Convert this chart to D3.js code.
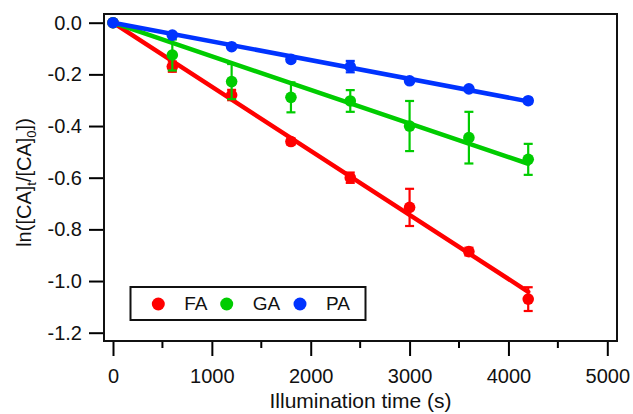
<!DOCTYPE html>
<html>
<head>
<meta charset="utf-8">
<script src="https://cdn.jsdelivr.net/npm/d3@7"></script>
<style>
  body { margin: 0; background: #fff; }
  svg { display: block; font-family: "Liberation Sans", Arial, sans-serif; }
</style>
</head>
<body>
<svg width="633" height="414"></svg>
<script>
// illumination times (s)
var times = [0, 600, 1200, 1800, 2400, 3000, 3600, 4200];

// ln([CA]t/[CA]0) means and error bars
var faMean = [0, -0.17, -0.28, -0.46, -0.60, -0.715, -0.886, -1.07];
var faErr  = [0, 0.02, 0.02, 0.012, 0.02, 0.072, 0.015, 0.046];
var gaMean = [0, -0.125, -0.228, -0.289, -0.303, -0.40, -0.445, -0.529];
var gaErr  = [0, 0.06, 0.068, 0.058, 0.042, 0.097, 0.10, 0.06];
var paMean = [0, -0.048, -0.093, -0.142, -0.170, -0.225, -0.256, -0.302];
var paErr  = [0, 0.005, 0.006, 0.01, 0.022, 0.006, 0.006, 0.01];

// linear fit slopes (per s)
var fitSlope = [-2.48e-4, -1.30e-4, -7.25e-5];

var seriesNames = ["FA", "GA", "PA"];
var seriesColors = ["#ff0000", "#00cc00", "#0033ff"];

var xTicks = [0, 1000, 2000, 3000, 4000, 5000];
var yTicks = [0, -0.2, -0.4, -0.6, -0.8, -1.0, -1.2];

;(function(){
    var svg = d3.select("svg"),
        left = 104, right = 617, top = 14, bottom = 341;

    var x = d3.scaleLinear().domain([0, 5000]).range([113, 607.3]);
    var y = d3.scaleLinear().domain([0, -1.2]).range([22.7, 332.7]);

    var series = [
        {name: seriesNames[0], mean: faMean, err: faErr, slope: fitSlope[0], color: seriesColors[0]},
        {name: seriesNames[1], mean: gaMean, err: gaErr, slope: fitSlope[1], color: seriesColors[1]},
        {name: seriesNames[2], mean: paMean, err: paErr, slope: fitSlope[2], color: seriesColors[2]}
    ];

    // x axis: major ticks + minor ticks
    var xAxis = d3.axisBottom(x)
        .tickValues(xTicks)
        .tickSizeInner(15)
        .tickSizeOuter(0)
        .tickPadding(13)
        .tickFormat(d3.format("d"));
    var gx = svg.append("g")
        .attr("transform", "translate(0," + bottom + ")")
        .call(xAxis);
    gx.select(".domain").remove();
    gx.selectAll(".tick line").attr("stroke", "#000").attr("stroke-width", 2);
    gx.selectAll(".tick text").attr("font-size", 20).attr("fill", "#111");
    gx.selectAll(".minor")
        .data(d3.range(500, 5000, 1000))
        .enter().append("line")
        .attr("x1", function(d){ return x(d); })
        .attr("x2", function(d){ return x(d); })
        .attr("y1", 0).attr("y2", 7)
        .attr("stroke", "#000").attr("stroke-width", 2);

    // y axis
    var yAxis = d3.axisLeft(y)
        .tickValues(yTicks)
        .tickSizeInner(15)
        .tickSizeOuter(0)
        .tickPadding(7)
        .tickFormat(d3.format(".1f"));
    var gy = svg.append("g")
        .attr("transform", "translate(" + left + ",0)")
        .call(yAxis);
    gy.select(".domain").remove();
    gy.selectAll(".tick line").attr("stroke", "#000").attr("stroke-width", 2);
    gy.selectAll(".tick text").attr("font-size", 20).attr("fill", "#111")
        .text(function(d){ return d3.format(".1f")(d).replace("−", "-"); });

    // frame
    svg.append("rect")
        .attr("x", left).attr("y", top)
        .attr("width", right - left).attr("height", bottom - top)
        .attr("fill", "none").attr("stroke", "#111").attr("stroke-width", 2);

    // axis titles
    svg.append("text")
        .attr("x", (left + right) / 2).attr("y", 408)
        .attr("text-anchor", "middle").attr("font-size", 21).attr("fill", "#111")
        .text("Illumination time (s)");

    var yt = svg.append("text")
        .attr("transform", "translate(31," + ((top + bottom) / 2 + 5) + ") rotate(-90)")
        .attr("text-anchor", "middle").attr("font-size", 20).attr("fill", "#111");
    yt.append("tspan").text("ln([CA]");
    yt.append("tspan").attr("font-size", 13).attr("dy", 5).text("t");
    yt.append("tspan").attr("dy", -5).text("/[CA]");
    yt.append("tspan").attr("font-size", 13).attr("dy", 5).text("0");
    yt.append("tspan").attr("dy", -5).text("])");

    var plot = svg.append("g");

    series.forEach(function(s){
        var pts = times.map(function(t, i){ return {t: t, v: s.mean[i], e: s.err[i]}; });

        // fit line
        var tEnd = d3.max(times);
        plot.append("line")
            .attr("x1", x(0)).attr("y1", y(0))
            .attr("x2", x(tEnd)).attr("y2", y(s.slope * tEnd))
            .attr("stroke", s.color).attr("stroke-width", 4.5)
            .attr("stroke-linecap", "round");

        // error bars
        var eb = plot.append("g").attr("stroke", s.color).attr("stroke-width", 2.2);
        pts.filter(function(d){ return d.e > 0; }).forEach(function(d){
            eb.append("line")
                .attr("x1", x(d.t)).attr("x2", x(d.t))
                .attr("y1", y(d.v + d.e)).attr("y2", y(d.v - d.e));
            [d.v + d.e, d.v - d.e].forEach(function(v){
                eb.append("line")
                    .attr("x1", x(d.t) - 4.5).attr("x2", x(d.t) + 4.5)
                    .attr("y1", y(v)).attr("y2", y(v));
            });
        });

        // markers
        plot.selectAll(null)
            .data(pts)
            .enter().append("circle")
            .attr("cx", function(d){ return x(d.t); })
            .attr("cy", function(d){ return y(d.v); })
            .attr("r", 5.8)
            .attr("fill", s.color);
    });

    // legend
    var legend = svg.append("g");
    legend.append("rect")
        .attr("x", 130.5).attr("y", 287)
        .attr("width", 235).attr("height", 33)
        .attr("fill", "#fff").attr("stroke", "#111").attr("stroke-width", 2);
    var legX = [158.3, 226.7, 300];
    series.forEach(function(s, i){
        legend.append("circle")
            .attr("cx", legX[i]).attr("cy", 304).attr("r", 6.5)
            .attr("fill", s.color);
        legend.append("text")
            .attr("x", legX[i] + 26).attr("y", 310)
            .attr("font-size", 19).attr("fill", "#111")
            .text(s.name);
    });
}());
</script>
</body>
</html>
